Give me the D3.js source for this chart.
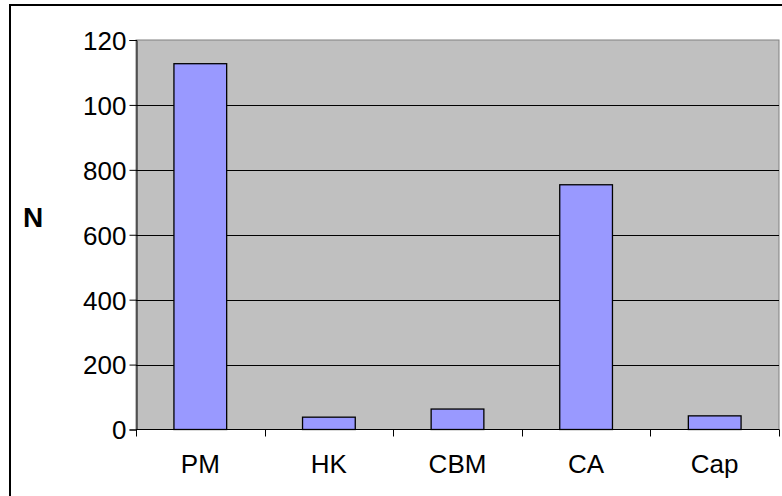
<!DOCTYPE html>
<html>
<head>
<meta charset="utf-8">
<script src="https://cdn.jsdelivr.net/npm/d3@7"></script>
<style>
  html, body { margin: 0; padding: 0; background: #fff; }
  svg { display: block; }
  text { font-family: "Liberation Sans", Arial, sans-serif; fill: #000; }
</style>
</head>
<body>
<svg id="chart" width="782" height="496"></svg>
<script>
// Counts per category
const categories = ["PM", "HK", "CBM", "CA", "Cap"];
const counts = [1127, 38, 63, 754, 42];
// Y axis ticks and the labels printed beside them
const yTicks = [0, 200, 400, 600, 800, 1000, 1200];
const yTickLabels = ["0", "200", "400", "600", "800", "100", "120"];
const yTitle = "N";

const svg = d3.select("#chart");
const plot = { left: 136, right: 779, top: 40, bottom: 429.5 };

// Outer chart frame
svg.append("path")
  .attr("d", "M10,500 L10,5 L790,5")
  .attr("fill", "none")
  .attr("stroke", "#000")
  .attr("stroke-width", 2);

const x = d3.scaleBand()
  .domain(categories)
  .range([plot.left, plot.right])
  .paddingInner(0.59)
  .paddingOuter(0.295);

const y = d3.scaleLinear()
  .domain([0, 1200])
  .range([plot.bottom, plot.top]);

// Plot area background
svg.append("rect")
  .attr("x", plot.left)
  .attr("y", plot.top)
  .attr("width", plot.right - plot.left)
  .attr("height", plot.bottom - plot.top)
  .attr("fill", "#c0c0c0")
  .attr("stroke", "#808080")
  .attr("stroke-width", 1);

// Horizontal gridlines
svg.append("g")
  .selectAll("line")
  .data(yTicks.filter(d => d > 0 && d < 1200))
  .join("line")
  .attr("x1", plot.left)
  .attr("x2", plot.right)
  .attr("y1", d => Math.round(y(d)) + 0.5)
  .attr("y2", d => Math.round(y(d)) + 0.5)
  .attr("stroke", "#000")
  .attr("stroke-width", 1);

// Bars
svg.append("g")
  .selectAll("rect")
  .data(categories.map((c, i) => ({ c, v: counts[i] })))
  .join("rect")
  .attr("x", d => x(d.c))
  .attr("y", d => y(d.v))
  .attr("width", x.bandwidth())
  .attr("height", d => y(0) - y(d.v))
  .attr("fill", "#9999ff")
  .attr("stroke", "#000")
  .attr("stroke-width", 1.3);

// Y axis
const yAxis = d3.axisLeft(y)
  .tickValues(yTicks)
  .tickSize(7)
  .tickPadding(3)
  .tickFormat((d, i) => yTickLabels[i]);

const gy = svg.append("g")
  .attr("transform", `translate(${plot.left + 0.5},0)`)
  .call(yAxis);
gy.select(".domain").attr("stroke", "#000");
gy.selectAll(".tick line").attr("stroke", "#000");
gy.selectAll("text")
  .style("font-size", "26px")
  .attr("dy", "0.36em");

// X axis with ticks at category boundaries
const gx = svg.append("g")
  .attr("transform", `translate(0,${plot.bottom})`);
gx.append("line")
  .attr("x1", plot.left)
  .attr("x2", plot.right)
  .attr("stroke", "#000");
const boundaries = categories.map((c, i) => plot.left + i * x.step());
boundaries.push(plot.right);
gx.selectAll("line.tick")
  .data(boundaries)
  .join("line")
  .attr("class", "tick")
  .attr("x1", d => Math.round(d) + 0.5)
  .attr("x2", d => Math.round(d) + 0.5)
  .attr("y1", 0)
  .attr("y2", 7)
  .attr("stroke", "#000");
gx.selectAll("text")
  .data(categories)
  .join("text")
  .attr("x", d => x(d) + x.bandwidth() / 2)
  .attr("y", 43)
  .attr("text-anchor", "middle")
  .style("font-size", "26px")
  .text(d => d);

// Y axis title
svg.append("text")
  .attr("x", 33)
  .attr("y", 227)
  .attr("text-anchor", "middle")
  .style("font-size", "28px")
  .style("font-weight", "bold")
  .text(yTitle);
</script>
</body>
</html>
